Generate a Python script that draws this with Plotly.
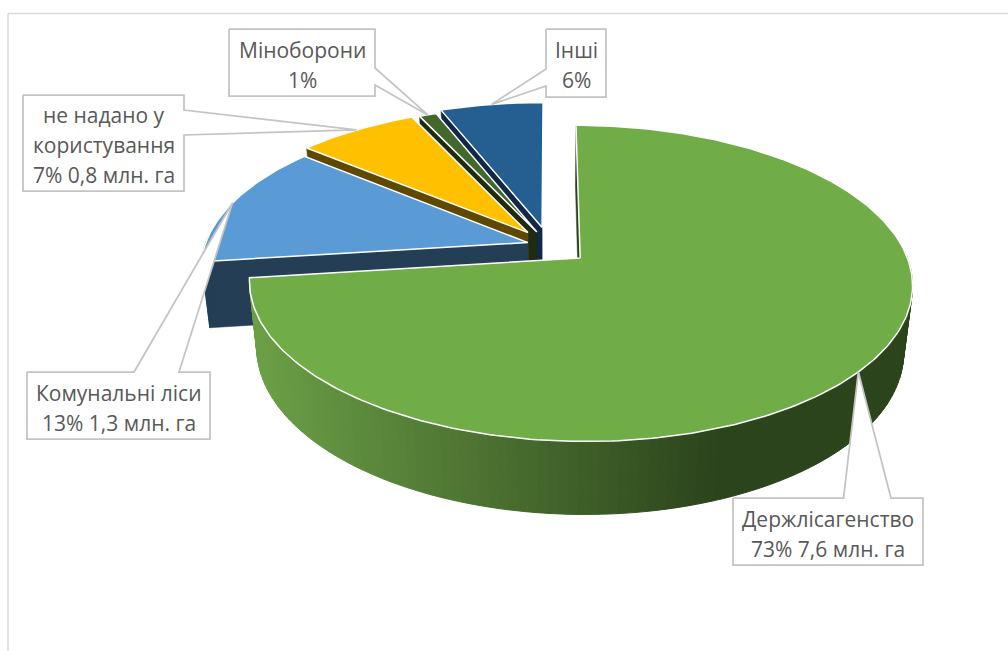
import numpy as np
import plotly.graph_objects as go

# Forest land by managing body, share of total (%)
categories = ["Держлісагенство", "Комунальні ліси", "не надано у користування", "Міноборони", "Інші"]
shares = [73, 13, 7, 1, 6]
areas = ["7,6 млн. га", "1,3 млн. га", "0,8 млн. га", "", ""]

# Slice styling, same order as categories
explode = [0.125, 0.07, 0.11, 0.10, 0.125]
top_colors = ["#70ad47", "#5b9bd5", "#ffc000", "#43682b", "#255e91"]
cut_colors = ["#2c441c", "#243f55", "#5f4800", "#1d2c12", "#12284a"]
wall_colors = [None, "#243f55", "#5f4800", "#1d2c12", "#12284a"]

# Text lines and boxes for the callouts: (left, top, right, bottom), wedge base points
label_lines = [
    [categories[0], f"{shares[0]}% {areas[0]}"],
    [categories[1], f"{shares[1]}% {areas[1]}"],
    ["не надано у", "користування", f"{shares[2]}% {areas[2]}"],
    [categories[3], f"{shares[3]}%"],
    [categories[4], f"{shares[4]}%"],
]
label_boxes = [(733, 498, 923, 565), (27, 372, 210, 439), (23, 95, 184, 191), (229, 29, 375, 96), (546, 29, 606, 97)]
wedge_bases = [
    [(891, 498), (843.5, 498)],
    [(179, 372), (134, 372)],
    [(184, 110), (184, 135)],
    [(375, 68), (375, 85)],
    [(546, 69), (546, 86)],
]

# Perspective camera for the pie plane
CX, CY, A, B, H = 549.5, 245.5, 323.0, 150.0, 67.0
K_DEPTH, K_DROP = 0.158, 0.024


def project(x, y, t=0.0):
    w = 1 + K_DEPTH * y + K_DROP * t
    return CX + A * x / w, CY + (-B * y + H * t) / w


def lerp_hex(c0, c1, f):
    a = np.array([int(c0[i:i + 2], 16) for i in (1, 3, 5)])
    b = np.array([int(c1[i:i + 2], 16) for i in (1, 3, 5)])
    r = (a + (b - a) * f).round().astype(int)
    return "#%02x%02x%02x" % tuple(r)


fig = go.Figure()


def poly(xs, ys, fill, line=None, width=0.0):
    fig.add_trace(go.Scatter(
        x=list(xs) + [xs[0]], y=list(ys) + [ys[0]], mode="lines", fill="toself",
        fillcolor=fill, line=dict(color=line or fill, width=width),
        hoverinfo="skip", showlegend=False,
    ))


edges = np.cumsum([0] + shares) / sum(shares) * 2 * np.pi
slices = []
for i in range(len(shares)):
    a0, a1 = edges[i], edges[i + 1]
    mid = (a0 + a1) / 2
    ox, oy = explode[i] * np.sin(mid), explode[i] * np.cos(mid)
    slices.append(dict(i=i, a0=a0, a1=a1, mid=mid, ox=ox, oy=oy))


def rim(s, ang, t=0.0):
    return project(s["ox"] + np.sin(ang), s["oy"] + np.cos(ang), t)


# Far slices are painted first, the large front slice last
for s in [slices[4], slices[3], slices[2], slices[1], slices[0]]:
    i = s["i"]
    apex_top = project(s["ox"], s["oy"], 0)
    apex_bot = project(s["ox"], s["oy"], 1)
    # Only the leading cut face turns towards the viewer
    t0, b0 = rim(s, s["a0"], 0), rim(s, s["a0"], 1)
    poly([apex_top[0], t0[0], b0[0], apex_bot[0]], [apex_top[1], t0[1], b0[1], apex_bot[1]], cut_colors[i], width=0.5)
    angs = np.linspace(s["a0"], s["a1"], max(3, int(np.degrees(s["a1"] - s["a0"]) / 1.5)))
    for p, q in zip(angs[:-1], angs[1:]):
        # The rim wall is visible only along the near half of the pie
        if np.cos((p + q) / 2) > 0.05:
            continue
        tp, tq, bq, bp = rim(s, p, 0), rim(s, q, 0), rim(s, q, 1), rim(s, p, 1)
        if wall_colors[i] is None:
            f = np.clip((tp[0] - 255) / (720 - 255), 0, 1)
            col = lerp_hex("#6b9f46", "#2c441c", f)
        else:
            col = wall_colors[i]
        poly([tp[0], tq[0], bq[0], bp[0]], [tp[1], tq[1], bq[1], bp[1]], col, width=1)
    arc = np.linspace(s["a0"], s["a1"], max(4, int(np.degrees(s["a1"] - s["a0"]))))
    pts = [rim(s, a, 0) for a in arc]
    poly([apex_top[0]] + [p[0] for p in pts], [apex_top[1]] + [p[1] for p in pts], top_colors[i], line="#ffffff", width=1.5)

# Callouts: the white wedge runs from the box to the slice rim at its mid-angle
for s, box, base, lines in zip(slices, label_boxes, wedge_bases, label_lines):
    left, top, right, bottom = box
    tip = rim(s, s["mid"], 0)
    if base[0][1] == bottom or base[0][1] == top:
        # wedge on the top edge, walking clockwise from top-left
        outline = [(left, top), base[1], tip, base[0], (right, top), (right, bottom), (left, bottom)]
    elif base[0][0] == right:
        outline = [(left, top), (right, top), base[0], tip, base[1], (right, bottom), (left, bottom)]
    else:
        outline = [(left, top), (right, top), (right, bottom), (left, bottom), base[1], tip, base[0]]
    poly([p[0] for p in outline], [p[1] for p in outline], "#ffffff", line="#c4c4c4", width=1.75)
    n = len(lines)
    cy = (top + bottom) / 2 + 2
    for j, txt in enumerate(lines):
        fig.add_annotation(
            x=(left + right) / 2, y=cy + (j - (n - 1) / 2) * 30, text=txt, showarrow=False,
            xanchor="center", yanchor="middle",
            font=dict(family="Open Sans", size=21, color="#595959"),
        )

fig.update_layout(
    width=1008, height=651, margin=dict(l=0, r=0, t=0, b=0),
    paper_bgcolor="#ffffff", plot_bgcolor="#ffffff", showlegend=False,
    xaxis=dict(range=[0, 1008], visible=False, fixedrange=True),
    yaxis=dict(range=[651, 0], visible=False, fixedrange=True),
    shapes=[
        dict(type="line", x0=8, x1=8, y0=13.5, y1=651, line=dict(color="#d9d9d9", width=1.5)),
        dict(type="line", x0=8, x1=1008, y0=13.5, y1=13.5, line=dict(color="#d9d9d9", width=1.5)),
    ],
)

fig.write_html("out.html")
